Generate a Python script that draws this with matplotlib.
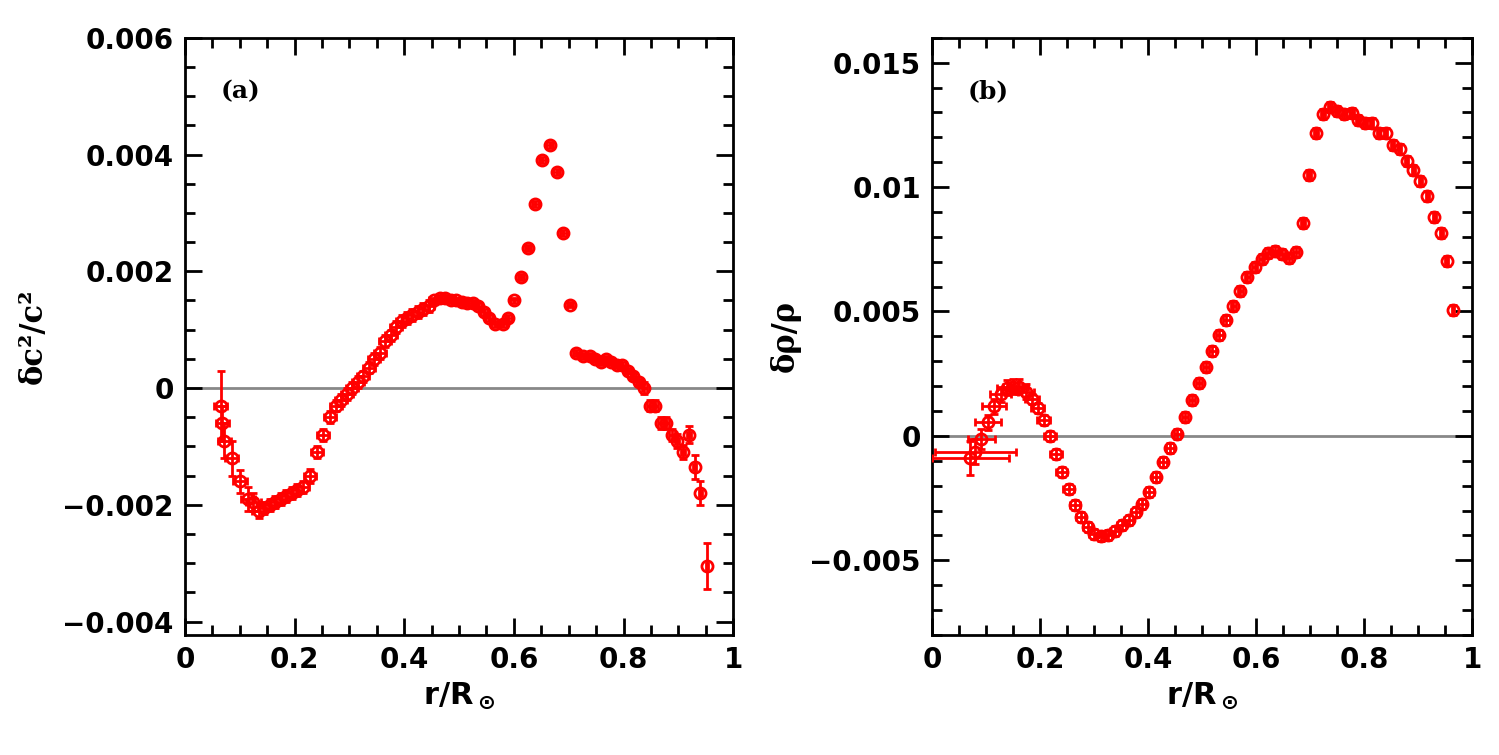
import matplotlib
matplotlib.use("Agg")
import matplotlib.pyplot as plt
import numpy as np
from matplotlib.ticker import MultipleLocator, FuncFormatter

# Panel (a): sound-speed difference
ra = [0.065,0.068,0.072,0.085,0.10,0.115,0.125,0.135,0.145,0.155,0.165,0.175,0.185,0.195,0.205,0.215,0.228,0.24,0.252,0.265,
      0.275,0.285,0.295,0.305,0.315,0.325,0.335,0.345,0.355,0.365,0.375,0.385,0.395,0.405,0.415,0.425,0.435,0.445,0.455,0.465,
      0.475,0.485,0.495,0.505,0.515,0.525,0.535,0.545,0.555,0.565,0.58,0.59,0.60,0.613,0.626,0.639,0.652,0.665,0.678,0.69,
      0.702,0.714,0.726,0.738,0.748,0.758,0.768,0.778,0.788,0.798,0.808,0.818,0.828,0.838,0.848,0.858,0.868,0.878,0.888,0.898,
      0.908,0.92,0.93,0.94,0.953]
dc2 = [-0.0003,-0.0006,-0.0009,-0.0012,-0.0016,-0.0019,-0.00195,-0.0021,-0.00205,-0.0020,-0.00195,-0.0019,-0.00185,-0.0018,-0.00175,-0.0017,-0.0015,-0.0011,-0.0008,-0.0005,
       -0.0003,-0.0002,-0.0001,0.0,0.0001,0.0002,0.00035,0.0005,0.0006,0.0008,0.0009,0.00105,0.00115,0.0012,0.00125,0.0013,0.00135,0.0014,0.0015,0.00155,
       0.00155,0.0015,0.0015,0.00148,0.00145,0.00145,0.0014,0.0013,0.0012,0.0011,0.0011,0.0012,0.0015,0.0019,0.0024,0.00315,0.0039,0.00417,0.0037,0.00265,
       0.00143,0.0006,0.00055,0.00055,0.0005,0.00045,0.0005,0.00045,0.0004,0.0004,0.0003,0.0002,0.0001,0.0,-0.0003,-0.0003,-0.0006,-0.0006,-0.0008,-0.0009,
       -0.0011,-0.0008,-0.00135,-0.0018,-0.00305]
dc2_err = [0.0006,0.0003,0.0003,0.0003,0.0002,0.0002,0.00015,0.00012,0.0001,0.0001,0.0001,0.0001,0.0001,0.0001,0.0001,0.0001,0.00012,0.0001,0.0001,0.0001,
           0.0001,0.0001,0.0001,0.0001,0.0001,0.0001,0.0001,0.0001,0.0001,0.0001,0.0001,0.0001,0.0001,0.0001,0.0001,0.0001,0.0001,0.0001,0.00005,0.00005,
           0.00005,0.00005,0.00005,0.00005,0.00005,0.00005,0.00005,0.00005,0.00005,0.00005,0.00005,0.00005,0.00005,0.00005,0.00005,0.00005,0.00005,0.00005,0.00005,0.00005,
           0.00005,0.00005,0.00005,0.00005,0.00005,0.00005,0.00005,0.00005,0.00005,0.00005,0.00005,0.00005,0.00005,0.0001,0.0001,0.0001,0.0001,0.0001,0.0001,0.00012,
           0.00012,0.00015,0.0002,0.0002,0.0004]
ra_err = [0.012,0.012,0.012,0.012,0.013,0.013,0.013,0.012,0.012,0.012,0.011,0.011,0.011,0.011,0.011,0.011,0.011,0.011,0.011,0.011,
          0.011,0.011,0.011,0.011,0.011,0.011,0.011,0.011,0.011,0.011,0.011,0.011,0.01,0.01,0.01,0.01,0.01,0.009,0.009,0.009,
          0.008,0.008,0.008,0.008,0.008,0.008,0.007,0.007,0.007,0.007,0.007,0.007,0.007,0.006,0.006,0.006,0.006,0.006,0.006,0.006,
          0.006,0.006,0.006,0.006,0.006,0.006,0.006,0.006,0.006,0.006,0.005,0.005,0.005,0.005,0.005,0.005,0.005,0.005,0.005,0.004,
          0.004,0.004,0.003,0.003,0.002]

# Panel (b): density difference
rb = [0.071,0.080,0.091,0.103,0.115,0.127,0.138,0.149,0.161,0.174,0.185,0.196,0.207,0.219,0.229,0.240,0.253,0.264,0.275,0.288,
      0.299,0.312,0.325,0.338,0.351,0.364,0.377,0.389,0.402,0.415,0.428,0.441,0.454,0.468,0.481,0.494,0.507,0.519,0.532,0.545,
      0.558,0.571,0.584,0.597,0.610,0.622,0.635,0.648,0.661,0.674,0.687,0.698,0.711,0.724,0.737,0.750,0.763,0.777,0.788,0.801,
      0.814,0.827,0.840,0.853,0.866,0.879,0.891,0.904,0.917,0.930,0.943,0.953,0.964]
drho = [-0.00089,-0.00064,-0.00011,0.00054,0.00119,0.00168,0.00193,0.00197,0.00197,0.00177,0.0015,0.00113,0.00063,0.0,-0.00071,-0.00145,-0.00215,-0.00276,-0.00326,-0.00366,
        -0.00396,-0.00404,-0.0040,-0.00382,-0.00359,-0.00339,-0.00306,-0.00272,-0.00225,-0.00165,-0.00105,-0.00047,0.00009,0.00076,0.00143,0.00211,0.00278,0.00342,0.00405,0.00465,
        0.00522,0.00582,0.0064,0.0068,0.00709,0.00734,0.00744,0.00730,0.00713,0.00740,0.00854,0.01049,0.01216,0.01294,0.01321,0.01307,0.01294,0.01297,0.0127,0.01257,
        0.01257,0.01216,0.01216,0.01169,0.01152,0.01105,0.01069,0.01025,0.00964,0.00881,0.00817,0.00704,0.00506]
drho_err = [0.0007,0.0005,0.0004,0.0003,0.0003,0.0003,0.0003,0.0003,0.0003,0.0003,0.0002,0.0002,0.0002,0.0002,0.0002,0.0002,0.0002,0.0002,0.0002,0.0002,
            0.0002,0.0002,0.0002,0.0002,0.0002,0.0002,0.0002,0.0002,0.0002,0.0002,0.0002,0.0002,0.0002,0.0002,0.0002,0.0002,0.0002,0.0002,0.0002,0.0002,
            0.0002,0.0002,0.0002,0.0002,0.0002,0.0002,0.0002,0.0002,0.0002,0.0002,0.0002,0.0002,0.0002,0.0002,0.0002,0.0002,0.0002,0.0002,0.0002,0.0002,
            0.0002,0.0002,0.0002,0.0002,0.0002,0.0002,0.0002,0.0002,0.0002,0.0002,0.0002,0.0002,0.0002]
rb_err = [0.071,0.075,0.025,0.024,0.022,0.020,0.018,0.017,0.016,0.014,0.013,0.012,0.012,0.011,0.011,0.010,0.010,0.009,0.009,0.009,
          0.008,0.008,0.008,0.008,0.008,0.008,0.008,0.008,0.008,0.007,0.007,0.007,0.006,0.006,0.006,0.006,0.006,0.006,0.006,0.006,
          0.005,0.005,0.005,0.005,0.005,0.005,0.005,0.005,0.005,0.005,0.004,0.004,0.004,0.004,0.004,0.004,0.004,0.004,0.004,0.004,
          0.003,0.003,0.003,0.003,0.003,0.003,0.003,0.003,0.003,0.003,0.003,0.003,0.002]

fig = plt.figure(figsize=(14.99, 7.55), dpi=100)
axa = fig.add_axes([0.1234, 0.159, 0.3657, 0.791])
axb = fig.add_axes([0.6218, 0.159, 0.3603, 0.791])

tickfont = dict(fontsize=20, fontweight='bold', family='DejaVu Sans')

def fmt(v, pos):
    if abs(v) < 1e-12:
        return '0'
    s = ('%.3f' % v).rstrip('0').rstrip('.')
    return s.replace('-', '\u2212')

for ax, x, y, ye, xe in [(axa, ra, dc2, dc2_err, ra_err), (axb, rb, drho, drho_err, rb_err)]:
    ax.axhline(0, color='#888888', lw=2, zorder=1)
    ax.errorbar(x, y, yerr=ye, xerr=xe, fmt='o', color='red', ecolor='red',
                mfc='none', mec='red', ms=8, mew=2, elinewidth=2, capsize=3, capthick=2, zorder=3)
    ax.set_xlim(0, 1)
    ax.xaxis.set_major_locator(MultipleLocator(0.2))
    ax.xaxis.set_minor_locator(MultipleLocator(0.05))
    ax.tick_params(which='both', direction='in', top=True, right=True, width=2)
    ax.tick_params(which='major', length=12)
    ax.tick_params(which='minor', length=7)
    for s in ax.spines.values():
        s.set_linewidth(2)
    ax.xaxis.set_major_formatter(FuncFormatter(fmt))
    ax.yaxis.set_major_formatter(FuncFormatter(fmt))
    for lab in ax.get_xticklabels() + ax.get_yticklabels():
        lab.set_fontsize(20); lab.set_fontweight('bold')
    ax.tick_params(axis='both', labelsize=20, pad=8)
    ax.set_xlabel(r'$\mathbf{r/R_\odot}$', fontsize=22, fontweight='bold', family='DejaVu Serif')

axa.set_ylim(-0.00423, 0.006)
axa.yaxis.set_major_locator(MultipleLocator(0.002))
axa.yaxis.set_minor_locator(MultipleLocator(0.0005))
axa.set_ylabel('δc²/c²', fontsize=22, fontweight='bold', family='DejaVu Serif', labelpad=10)
axa.text(0.065, 0.93, '(a)', transform=axa.transAxes, fontsize=18, fontweight='bold', family='DejaVu Serif', va='top')

axb.set_ylim(-0.008, 0.016)
axb.yaxis.set_major_locator(MultipleLocator(0.005))
axb.yaxis.set_minor_locator(MultipleLocator(0.001))
axb.set_ylabel('δρ/ρ', fontsize=22, fontweight='bold', family='DejaVu Serif', labelpad=6)
axb.text(0.065, 0.93, '(b)', transform=axb.transAxes, fontsize=18, fontweight='bold', family='DejaVu Serif', va='top')

for ax in (axa, axb):
    for lab in ax.get_xticklabels() + ax.get_yticklabels():
        lab.set_fontweight('bold')

fig.savefig('out.png', dpi=100)
